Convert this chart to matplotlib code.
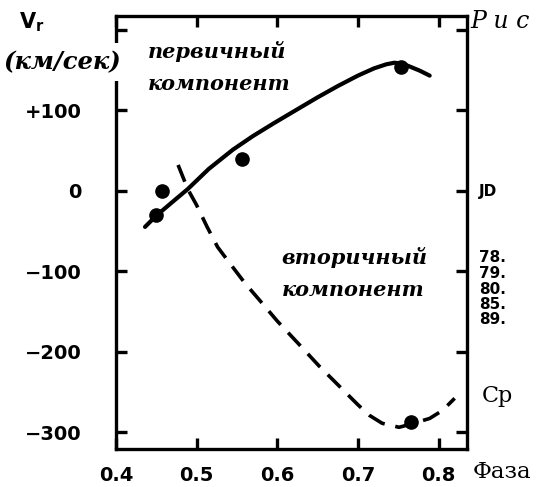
import matplotlib.pyplot as plt

# Лучевые скорости компонентов (фаза, км/сек)
faza_perv = [0.436, 0.45, 0.47, 0.489, 0.515, 0.545, 0.57, 0.596, 0.628,
             0.65, 0.675, 0.70, 0.72, 0.735, 0.745, 0.755, 0.765, 0.777, 0.789]
v_perv = [-45, -31, -14, 2, 27, 51, 68, 84, 103,
          116, 130, 143, 152, 157, 159, 158, 154, 149, 143]

faza_vtor = [0.477, 0.483, 0.489, 0.50, 0.513, 0.526, 0.541, 0.56, 0.578, 0.60,
             0.628, 0.652, 0.677, 0.70, 0.714, 0.73, 0.751, 0.766, 0.789, 0.805, 0.82]
v_vtor = [32, 17, 2, -18, -45, -70, -90, -115, -136, -162,
          -192, -218, -243, -266, -279, -289, -294, -290, -283, -273, -258]

# наблюдения
faza_nabl = [0.457, 0.45, 0.556, 0.754, 0.766]
v_nabl = [0, -30, 40, 154, -287]

x_ticks = [0.4, 0.5, 0.6, 0.7, 0.8]
x_labels = ['0.4', '0.5', '0.6', '0.7', '0.8']
y_ticks = [-300, -200, -100, 0, 100, 200]
y_labels = ['\u2212300', '\u2212200', '\u2212100', '0', '+100', '']

jd_list = ['78.', '79.', '80.', '85.', '89.']

plt.rcParams['mathtext.fontset'] = 'dejavusans'

fig = plt.figure(figsize=(5.38, 4.87), dpi=100)
ax = fig.add_axes([0.2156, 0.078, 0.652, 0.889])

ax.plot(faza_perv, v_perv, color='black', lw=3.0, solid_capstyle='round')
ax.plot(faza_vtor, v_vtor, color='black', lw=2.6, linestyle=(0, (5, 3)))
ax.plot(faza_nabl, v_nabl, 'o', color='black', markersize=9.5)

ax.set_xlim(0.4, 0.835)
ax.set_ylim(-321, 217)
ax.set_xticks(x_ticks)
ax.set_xticklabels(x_labels, fontsize=14, fontweight='bold')
ax.set_yticks(y_ticks)
ax.set_yticklabels(y_labels, fontsize=14, fontweight='bold')
ax.tick_params(direction='in', length=8, width=2.4, top=True, right=True,
               color='black')
ax.tick_params(axis='x', pad=12)
ax.tick_params(axis='y', pad=25)
for s in ax.spines.values():
    s.set_linewidth(2.4)

kursiv = dict(family='DejaVu Serif', style='italic', fontweight='bold', fontsize=15)
ax.text(0.4395, 173, 'первичный', ha='left', va='center', **kursiv)
ax.text(0.4395, 133, 'компонент', ha='left', va='center', **kursiv)
ax.text(0.605, -83, 'вторичный', ha='left', va='center', **kursiv)
ax.text(0.606, -124, 'компонент', ha='left', va='center', **kursiv)

# подписи вне осей
fig.text(0.035, 0.978, r'$\mathbf{V_r}$', fontsize=15, ha='left', va='top')
fig.text(0.006, 0.873, '(км/сек)', family='DejaVu Serif', style='italic',
         fontweight='bold', fontsize=17.5, ha='left', va='center',
         bbox=dict(facecolor='white', edgecolor='none', pad=5))
fig.text(0.874, 0.955, 'Р и с', family='DejaVu Serif', style='italic',
         fontsize=17, ha='left', va='center')
fig.text(0.89, 0.606, 'JD', fontsize=11, fontweight='bold', ha='left', va='center')
for i, jd in enumerate(jd_list):
    fig.text(0.89, 1 - (258 + 15.5 * i) / 487, jd, fontsize=11, fontweight='bold',
             ha='left', va='center')
fig.text(0.895, 1 - 396 / 487, 'Ср', family='DejaVu Serif', fontsize=16,
         ha='left', va='center')
fig.text(0.879, 1 - 472 / 487, 'Фаза', family='DejaVu Serif', fontsize=16.5,
         ha='left', va='center')

fig.savefig('out.png', dpi=100)
